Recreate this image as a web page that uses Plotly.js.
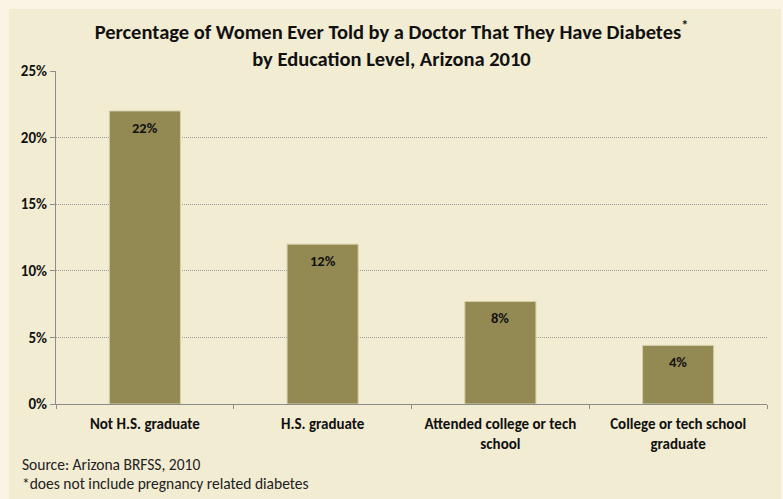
<!DOCTYPE html>
<html>
<head>
<meta charset="utf-8">
<script src="https://cdn.plot.ly/plotly-3.0.1.min.js"></script>
<style>
html,body{margin:0;padding:0;background:#fbf3e4;}
#chart{width:783px;height:499px;}
</style>
</head>
<body>
<div id="chart"></div>
<script>
const categories = ["Not H.S. graduate", "H.S. graduate", "Attended college or tech<br>school", "College or tech school<br>graduate"];
const values = [22.0, 12.0, 7.7, 4.4];
const valueLabels = ["22%", "12%", "8%", "4%"];
const yTicks = [0, 5, 10, 15, 20, 25];
const yTickLabels = ["0%", "5%", "10%", "15%", "20%", "25%"];
const notes = ["Source: Arizona BRFSS, 2010", "*does not include pregnancy related diabetes"];

const FONT = "Calibri, Carlito, 'Liberation Sans', sans-serif";

const trace = {
  type: "bar",
  x: categories,
  y: values,
  marker: {color: "#938953", line: {color: "#d6cfa9", width: 1}},
  hoverinfo: "skip"
};

const labelAnns = categories.map((c, i) => ({
  x: c, y: values[i], xref: "x", yref: "y",
  text: "<b>" + valueLabels[i] + "</b>",
  showarrow: false, yanchor: "top", yshift: -6,
  font: {family: FONT, size: 14.5, color: "#111"}
}));

const noteYs = [-0.1802, -0.2402];
const noteAnns = notes.map((t, i) => ({
  xref: "paper", yref: "paper", x: -0.0506, y: noteYs[i],
  xanchor: "left", yanchor: "middle", align: "left", showarrow: false,
  text: t,
  font: {family: FONT, size: 15.5, color: "#222"}
}));

const layout = {
  width: 783, height: 499,
  margin: {l: 56, r: 16, t: 71, b: 95},
  paper_bgcolor: "#fbf3e4",
  plot_bgcolor: "rgba(0,0,0,0)",
  showlegend: false,
  bargap: 0.6,
  title: {
    text: "<b>Percentage of Women Ever Told by a Doctor That They Have Diabetes<sup>*</sup><br>by Education Level, Arizona 2010</b>",
    font: {family: FONT, size: 20.5, color: "#111"},
    x: 0.5, xref: "container", xanchor: "center",
    y: 0.922, yref: "container", yanchor: "top"
  },
  xaxis: {
    type: "category",
    showline: true, linecolor: "#8c8c8c", linewidth: 1,
    ticks: "outside", tickson: "boundaries", ticklen: 4, tickcolor: "#8c8c8c",
    ticklabelstandoff: 6,
    tickfont: {family: FONT, size: 15, color: "#111", weight: "bold"},
    showgrid: false, zeroline: false, fixedrange: true
  },
  yaxis: {
    range: [0, 25],
    tickvals: yTicks, ticktext: yTickLabels,
    ticks: "outside", ticklen: 5, tickcolor: "#8c8c8c",
    showline: true, linecolor: "#8c8c8c", linewidth: 1,
    showgrid: true, gridcolor: "#9a9a9a", griddash: "1px,1px", gridwidth: 1,
    zeroline: false,
    tickfont: {family: FONT, size: 15, color: "#111", weight: "bold"},
    fixedrange: true
  },
  shapes: [{
    type: "rect", xref: "paper", yref: "paper",
    x0: -0.0661, x1: 1.0197, y0: -0.3, y1: 1.186,
    fillcolor: "#f2ecd2", line: {width: 0}, layer: "below"
  }],
  annotations: labelAnns.concat(noteAnns)
};

Plotly.newPlot("chart", [trace], layout, {displayModeBar: false, staticPlot: true});
</script>
</body>
</html>
